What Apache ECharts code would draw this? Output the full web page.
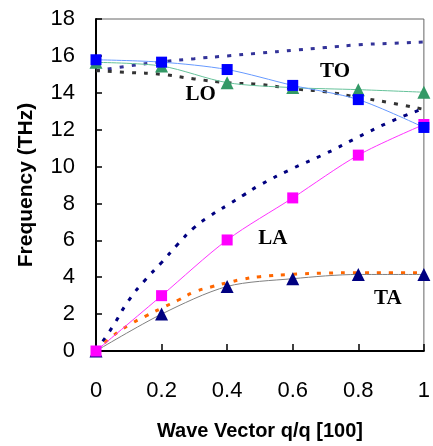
<!DOCTYPE html>
<html>
<head>
<meta charset="utf-8">
<script src="https://cdn.jsdelivr.net/npm/echarts@6/dist/echarts.min.js"></script>
<style>
	html, body { margin: 0; padding: 0; background: #fff; }
	#chart { width: 433px; height: 446px; }
</style>
</head>
<body>
<div id="chart"></div>
<script>
// measured points (markers)
const qMeas = [0, 0.2, 0.4, 0.6, 0.8, 1]
const taMeas = [0, 2.0, 3.5, 3.92, 4.15, 4.15]
const laMeas = [0, 3.0, 6.02, 8.3, 10.62, 12.28]
const loMeas = [15.65, 15.45, 14.55, 14.28, 14.17, 14.03]
const toMeas = [15.79, 15.66, 15.26, 14.4, 13.63, 12.12]

// calculated curves (dotted)
const qAcoustic = [0, 0.05, 0.1, 0.15, 0.2, 0.25, 0.3, 0.35, 0.4, 0.45, 0.5, 0.6, 0.7, 0.8, 0.9, 1]
const laCalc = [0, 1.3, 2.75, 3.85, 4.8, 5.8, 6.7, 7.35, 7.9, 8.45, 9.0, 9.9, 10.7, 11.6, 12.45, 13.15]
const taCalc = [0, 0.8, 1.4, 1.88, 2.32, 2.75, 3.2, 3.47, 3.7, 3.9, 4.03, 4.16, 4.22, 4.24, 4.24, 4.24]
const qOptic = [0, 0.1, 0.2, 0.3, 0.4, 0.5, 0.6, 0.7, 0.8, 0.9, 1]
const toCalc = [15.2, 15.45, 15.68, 15.85, 16.0, 16.15, 16.3, 16.45, 16.6, 16.68, 16.75]
const loCalc = [15.2, 15.1, 15.0, 14.75, 14.55, 14.45, 14.22, 14.05, 13.75, 13.45, 13.1]

// branch names placed in data units
const branchNames = ['LO', 'TO', 'LA', 'TA']
const branchQ = [0.319, 0.729, 0.539, 0.89]
const branchF = [13.9, 15.14, 6.09, 2.85]

const xTicks = [0, 0.2, 0.4, 0.6, 0.8, 1]

const pairs = (xs, ys) => xs.map((x, i) => [x, ys[i]])

const dotted = (data, color) => {
	return {
		type: 'line',
		data: data,
		smooth: true,
		symbol: 'none',
		silent: true,
		lineStyle: { color: color, width: 3, type: [4, 8], cap: 'butt' },
	}
}

const measured = (data, lineColor, markColor, symbol, size) => {
	return {
		type: 'line',
		data: data,
		smooth: 0.3,
		symbol: symbol,
		symbolSize: size,
		showSymbol: true,
		lineStyle: { color: lineColor, width: 1 },
		itemStyle: { color: markColor, borderWidth: 0 },
	}
}

const chart = echarts.init(document.getElementById('chart'))

const option = {
	animation: false,
	grid: {
		left: 96,
		right: 5,
		top: 19,
		bottom: 93,
		show: true,
		borderColor: '#666',
		borderWidth: 1,
	},
	xAxis: {
		type: 'value',
		min: 0,
		max: 1,
		interval: 0.2,
		name: 'Wave Vector q/q [100]',
		nameLocation: 'middle',
		nameGap: 70,
		nameTextStyle: { fontFamily: 'Liberation Sans', fontWeight: 'bold', fontSize: 20, color: '#000' },
		axisLine: { lineStyle: { color: '#000', width: 2 } },
		axisTick: { inside: true, length: 7, lineStyle: { color: '#000', width: 1.5 } },
		axisLabel: {
			margin: 29,
			fontFamily: 'Liberation Sans',
			fontSize: 22,
			color: '#000',
			formatter: (v) => (xTicks.includes(v) ? String(v) : ''),
		},
		splitLine: { show: false },
	},
	yAxis: {
		type: 'value',
		min: 0,
		max: 18,
		interval: 2,
		name: 'Frequency (THz)',
		nameLocation: 'middle',
		nameGap: 59,
		nameTextStyle: { fontFamily: 'Liberation Sans', fontWeight: 'bold', fontSize: 21, color: '#000' },
		axisLine: { lineStyle: { color: '#000', width: 2 } },
		axisTick: { inside: true, length: 6, lineStyle: { color: '#000', width: 1.5 } },
		axisLabel: { margin: 21, fontFamily: 'Liberation Sans', fontSize: 22, color: '#000' },
		splitLine: { show: false },
	},
	series: [
		dotted(pairs(qOptic, toCalc), '#333399'),
		dotted(pairs(qOptic, loCalc), '#333333'),
		dotted(pairs(qAcoustic, laCalc), '#000080'),
		dotted(pairs(qAcoustic, taCalc), '#ff6600'),
		measured(pairs(qMeas, loMeas), '#66c29a', '#339966', 'triangle', 13),
		measured(pairs(qMeas, taMeas), '#808080', '#000080', 'triangle', 13),
		measured(pairs(qMeas, laMeas), '#ff33ff', '#ff00ff', 'rect', 11),
		measured(pairs(qMeas, toMeas), '#6699ff', '#0000ff', 'rect', 11),
		{
			type: 'scatter',
			symbolSize: 1,
			itemStyle: { opacity: 0 },
			silent: true,
			z: 10,
			data: branchNames.map((n, i) => ({ name: n, value: [branchQ[i], branchF[i]] })),
			label: {
				show: true,
				position: 'inside',
				formatter: '{b}',
				fontFamily: 'Liberation Serif',
				fontWeight: 'bold',
				fontSize: 21,
				color: '#000',
				opacity: 1,
			},
		},
	],
}

chart.setOption(option)
</script>
</body>
</html>
